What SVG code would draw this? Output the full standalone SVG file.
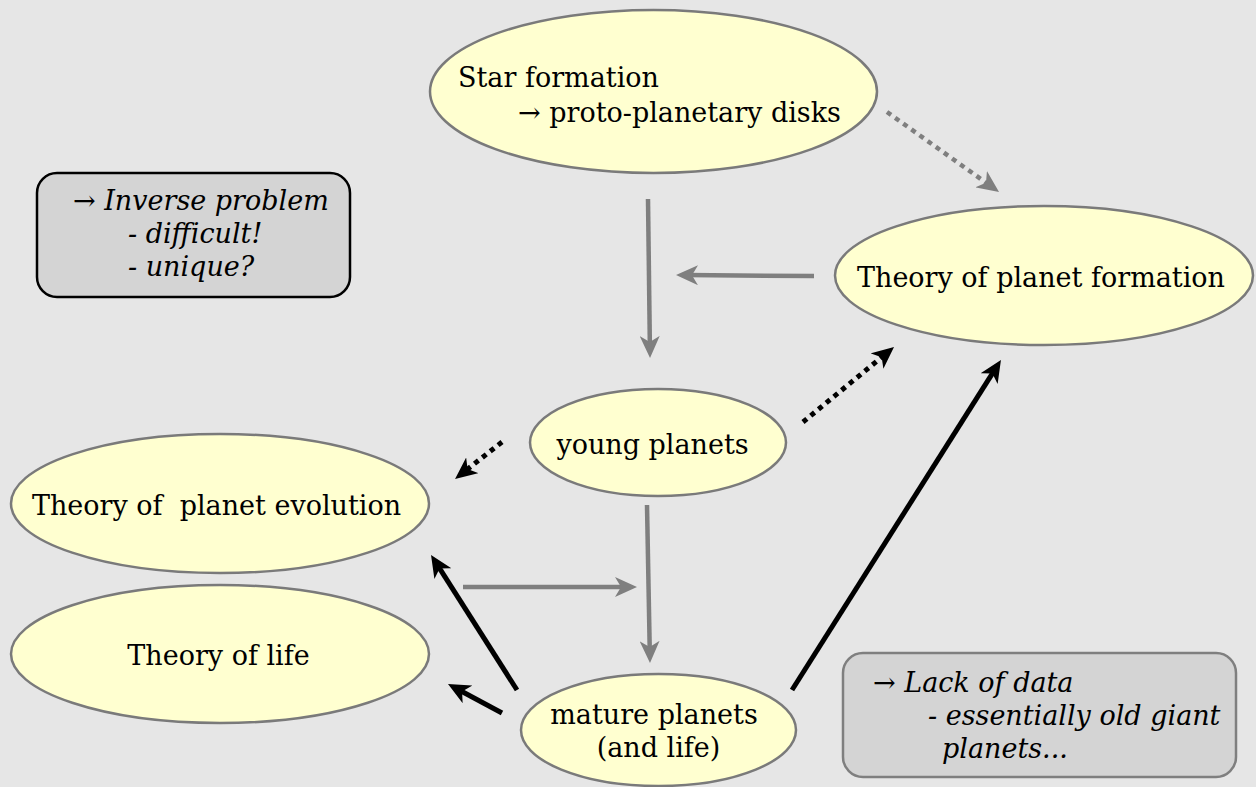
<svg xmlns="http://www.w3.org/2000/svg" width="1256" height="787" viewBox="0 0 1256 787">
<style>
.node ellipse{fill:#ffffd0;stroke:#7a7a7a;stroke-width:2.5}
.box rect{fill:#d4d4d4;stroke-width:2.5}
text{font-family:"DejaVu Serif","Liberation Serif",serif;font-size:27px;fill:#000}
.it{font-style:italic}
.c{text-anchor:middle}
.g{stroke:#7f7f7f;stroke-width:4.5;fill:none}
.k{stroke:#000;stroke-width:5;fill:none}
.dot{stroke-dasharray:5 5}
</style>
<defs>
<marker id="ag" markerUnits="userSpaceOnUse" viewBox="0 0 22 20" markerWidth="22" markerHeight="20" refX="12" refY="10" orient="auto">
<path d="M0,0 L22,10 L0,20 L6,10 z" fill="#7f7f7f"/>
</marker>
<marker id="ak" markerUnits="userSpaceOnUse" viewBox="0 0 22 20" markerWidth="22" markerHeight="20" refX="12" refY="10" orient="auto">
<path d="M0,0 L22,10 L0,20 L6,10 z" fill="#000"/>
</marker>
</defs>
<rect width="1256" height="787" fill="#e6e6e6"/>

<g id="star" class="node">
<ellipse cx="653.5" cy="91.5" rx="223.5" ry="81.5"/>
<text x="458" y="87">Star formation</text>
<text x="518" y="122">→ proto-planetary disks</text>
</g>
<g id="formation" class="node">
<ellipse cx="1044" cy="275.5" rx="209" ry="69.5"/>
<text class="c" x="1041" y="287">Theory of planet formation</text>
</g>
<g id="young" class="node">
<ellipse cx="658" cy="442.5" rx="128" ry="53.5"/>
<text class="c" x="652.5" y="454">young planets</text>
</g>
<g id="evolution" class="node">
<ellipse cx="220" cy="503.5" rx="209" ry="69.5"/>
<text class="c" x="216.5" y="515" xml:space="preserve">Theory of  planet evolution</text>
</g>
<g id="life" class="node">
<ellipse cx="220" cy="654" rx="209" ry="69"/>
<text class="c" x="218.5" y="665">Theory of life</text>
</g>
<g id="mature" class="node">
<ellipse cx="658.5" cy="730" rx="137.5" ry="56"/>
<text class="c" x="654" y="724">mature planets</text>
<text class="c" x="658.5" y="757">(and life)</text>
</g>
<g id="inverse" class="box">
<rect x="37" y="173" width="313" height="124" rx="20" stroke="#000"/>
<text class="it" x="73" y="210">→ Inverse problem</text>
<text class="it" x="128" y="243">- difficult!</text>
<text class="it" x="128" y="276">- unique?</text>
</g>
<g id="lack" class="box">
<rect x="843" y="653" width="393" height="124" rx="20" stroke="#7f7f7f"/>
<text class="it" x="873" y="692">→ Lack of data</text>
<text class="it" x="928" y="725">- essentially old giant</text>
<text class="it" x="942" y="758">planets...</text>
</g>

<g id="connectors">
<line class="g dot" x1="887" y1="112" x2="990.9" y2="186.2" marker-end="url(#ag)"/>
<line class="g" x1="648" y1="199" x2="649.9" y2="348" marker-end="url(#ag)"/>
<line class="g" x1="814" y1="276" x2="686" y2="275.1" marker-end="url(#ag)"/>
<line class="k dot" x1="803" y1="422" x2="886.3" y2="353.4" marker-end="url(#ak)"/>
<line class="k dot" x1="502" y1="442" x2="462.9" y2="472.8" marker-end="url(#ak)"/>
<line class="g" x1="647" y1="505" x2="649.8" y2="653" marker-end="url(#ag)"/>
<line class="g" x1="463" y1="587" x2="627" y2="587" marker-end="url(#ag)"/>
<line class="k" x1="517" y1="690" x2="436.4" y2="563.4" marker-end="url(#ak)"/>
<line class="k" x1="502" y1="713" x2="456.8" y2="688.7" marker-end="url(#ak)"/>
<line class="k" x1="792" y1="690" x2="995.6" y2="368.4" marker-end="url(#ak)"/>
</g>
</svg>
